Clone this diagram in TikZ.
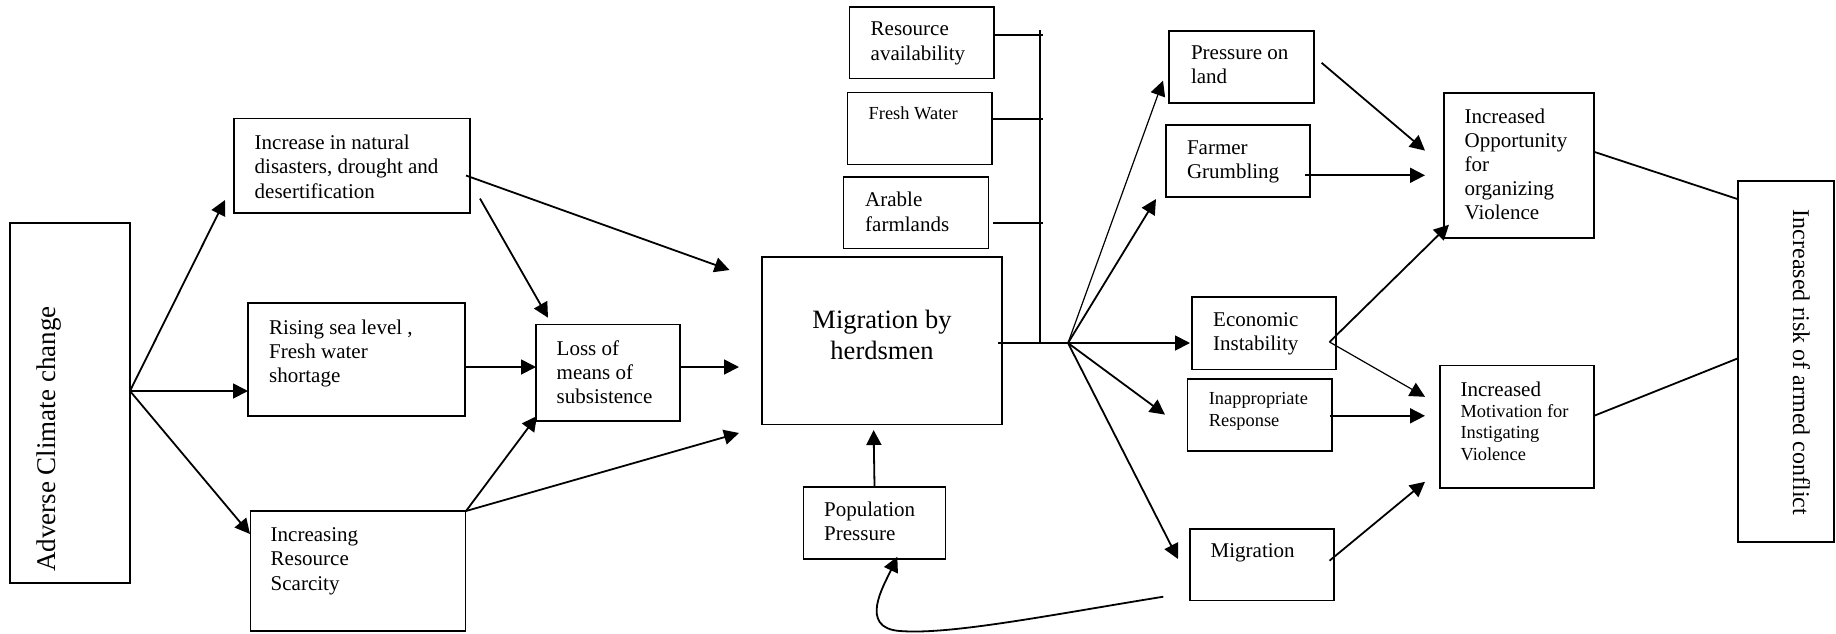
\documentclass[tikz,border=0pt]{standalone}
\usepackage{fontspec}
\setmainfont{Liberation Serif}
\usetikzlibrary{arrows.meta}
\begin{document}
\begin{tikzpicture}[x=1pt,y=-1pt,
  box/.style={draw, line width=1.8pt, rectangle, inner sep=0pt},
  txt/.style={inner sep=0pt, anchor=north west, align=left, font=\fontsize{21}{24.3}\selectfont},
  stxt/.style={txt, font=\fontsize{18.4}{21.9}\selectfont},
  arr/.style={line width=1.8pt, -{Triangle[length=15pt,width=15pt]}},
  thinarr/.style={arr, line width=1.2pt},
  ln/.style={line width=1.8pt},
  thinln/.style={line width=1.2pt}]
\useasboundingbox (0,0) rectangle (1836,633);

% ---------- boxes ----------
\node[box, minimum width=120pt, minimum height=360pt] (adv) at (70,403) {};
\node[box, minimum width=236pt, minimum height=94.5pt] (incr) at (352,165.75) {};
\node[box, minimum width=217pt, minimum height=113pt] (rise) at (356.5,359.5) {};
\node[box, minimum width=215pt, minimum height=120pt] (scar) at (358,571) {};
\node[box, minimum width=144pt, minimum height=96.5pt] (loss) at (608,372.75) {};
\node[box, minimum width=240pt, minimum height=167.5pt] (herd) at (882,340.75) {};
\node[box, minimum width=144.5pt, minimum height=71.5pt] (resav) at (921.75,42.75) {};
\node[box, minimum width=144.5pt, minimum height=72pt] (fresh) at (919.75,128.5) {};
\node[box, minimum width=145pt, minimum height=71.5pt] (arable) at (916,212.75) {};
\node[box, minimum width=142pt, minimum height=72pt] (pop) at (874.5,523) {};
\node[box, minimum width=145pt, minimum height=72pt] (pland) at (1241.5,67) {};
\node[box, minimum width=144pt, minimum height=72pt] (farmer) at (1238,161) {};
\node[box, minimum width=144pt, minimum height=72.5pt] (econ) at (1264,333.25) {};
\node[box, minimum width=144.5pt, minimum height=72pt] (inapp) at (1259.75,415) {};
\node[box, minimum width=144pt, minimum height=71.5pt] (migr) at (1262,564.75) {};
\node[box, minimum width=150pt, minimum height=145pt] (opp) at (1519,165.15) {};
\node[box, minimum width=154pt, minimum height=122.5pt] (motiv) at (1517,426.8) {};
\node[box, minimum width=96pt, minimum height=360.7pt] (risk) at (1786,361.35) {};

% ---------- texts ----------
\node[inner sep=0pt, rotate=90, anchor=base west, font=\fontsize{27}{30}\selectfont] (advT) at (55.3,572) {Adverse Climate change};
\node[inner sep=0pt, rotate=-90, anchor=base west, font=\fontsize{24}{28}\selectfont] (riskT) at (1793,209.7) {Increased risk of armed conflict};
\node[txt] (incrT) at (254.5,134.7) {Increase in natural\\disasters, drought and\\desertification};
\node[txt] (riseT) at (269,319.3) {Rising sea level ,\\Fresh water\\shortage};
\node[txt] (scarT) at (270.5,527.3) {Increasing\\Resource\\Scarcity};
\node[txt] (lossT) at (556.5,340.3) {Loss of\\means of\\subsistence};
\node[inner sep=0pt, anchor=north, align=center, font=\fontsize{26.5}{31}\selectfont] (herdT) at (882,309.5) {Migration by\\herdsmen};
\node[txt] (resavT) at (870.5,22) {Resource\\availability};
\node[stxt] (freshT) at (868.5,107) {Fresh Water};
\node[txt] (arableT) at (865,192) {Arable\\farmlands};
\node[txt] (popT) at (824,501.6) {Population\\Pressure};
\node[txt] (plandT) at (1190.8,45.4) {Pressure on\\land};
\node[txt] (farmerT) at (1186.8,140.3) {Farmer\\Grumbling};
\node[txt] (econT) at (1213,311.9) {Economic\\Instability};
\node[stxt] (inappT) at (1208.6,392.6) {Inappropriate\\Response};
\node[txt] (migrT) at (1210.5,543) {Migration};
\node[txt, font=\fontsize{21}{24.1}\selectfont] (oppT) at (1464.4,108.3) {Increased\\Opportunity\\for\\organizing\\Violence};
\node[txt] (motivT) at (1460.4,381.6) {Increased};
\node[stxt] (motivTb) at (1460.4,403.9) {Motivation for\\Instigating\\Violence};

% ---------- coordinates ----------
\coordinate (advO) at (130,391);
\coordinate (tIncr) at (225,200);
\coordinate (tRise) at (248,391);
\coordinate (tScar) at (250,534);
\coordinate (incrO1) at (466,175.5);
\coordinate (incrO2) at (480,198.6);
\coordinate (tHerd1) at (729.5,270);
\coordinate (tLoss1) at (548,317.7);
\coordinate (riseO) at (465,367);
\coordinate (tLoss2) at (536,367);
\coordinate (lossO) at (680,367);
\coordinate (tHerd2) at (739,367);
\coordinate (scarO) at (466,511);
\coordinate (tLoss3) at (537,416);
\coordinate (tHerd3) at (739,433);
\coordinate (resavO) at (993.5,35);
\coordinate (freshO) at (992,118.7);
\coordinate (arableO) at (993,222.9);
\coordinate (resavE) at (1042.5,35);
\coordinate (freshE) at (1042.5,118.7);
\coordinate (arableE) at (1042.5,222.9);
\coordinate (barTop) at (1039.7,30);
\coordinate (barBot) at (1039.7,343);
\coordinate (herdO) at (998,343);
\coordinate (hub) at (1068,343);
\coordinate (tPland) at (1163,80.7);
\coordinate (tFarmer) at (1156,199);
\coordinate (tEcon) at (1190,343);
\coordinate (tInapp) at (1165,414.6);
\coordinate (tMigr) at (1178,559);
\coordinate (plandO) at (1321.6,62.8);
\coordinate (farmerO) at (1305.4,175.3);
\coordinate (econO) at (1329.5,342);
\coordinate (inappO) at (1329.5,415.8);
\coordinate (migrO) at (1329.5,560.7);
\coordinate (tOpp1) at (1425,150.6);
\coordinate (tOpp2) at (1425,175.3);
\coordinate (tOpp3) at (1449,224.7);
\coordinate (tMot1) at (1425,396.8);
\coordinate (tMot2) at (1425,415.8);
\coordinate (tMot3) at (1425,481.8);
\coordinate (oppO) at (1594,151.8);
\coordinate (riskI1) at (1738,199.2);
\coordinate (motivO) at (1594,415.8);
\coordinate (riskI2) at (1738,358.3);
\coordinate (tPopHerd) at (873.6,430);
\coordinate (migrC) at (1163.3,596.7);
\coordinate (tPop) at (897.3,556.7);

% ---------- connectors ----------
\draw[arr] (advO) -- (tIncr);
\draw[arr] (advO) -- (tRise);
\draw[arr] (advO) -- (tScar);
\draw[arr] (incrO1) -- (tHerd1);
\draw[arr] (incrO2) -- (tLoss1);
\draw[arr] (riseO) -- (tLoss2);
\draw[arr] (lossO) -- (tHerd2);
\draw[arr] (scarO) -- (tLoss3);
\draw[arr] (scarO) -- (tHerd3);

\draw[ln] (resavO) -- (resavE);
\draw[ln] (freshO) -- (freshE);
\draw[ln] (arableO) -- (arableE);
\draw[ln] (barTop) -- (barBot);
\draw[ln] (herdO) -- (hub);

\draw[thinarr] (hub) -- (tPland);
\draw[arr] (hub) -- (tFarmer);
\draw[arr] (hub) -- (tEcon);
\draw[arr] (hub) -- (tInapp);
\draw[arr] (hub) -- (tMigr);

\draw[arr] (plandO) -- (tOpp1);
\draw[arr] (farmerO) -- (tOpp2);
\draw[arr] (econO) -- (tOpp3);
\draw[thinarr] (econO) -- (tMot1);
\draw[arr] (inappO) -- (tMot2);
\draw[arr] (migrO) -- (tMot3);

\draw[ln] (oppO) -- (riskI1);
\draw[ln] (motivO) -- (riskI2);

\draw[arr] (pop.north) -- (tPopHerd);
\draw[arr] (migrC) .. controls (1050,615) and (950,635) .. (900,631)
                   .. controls (858,628) and (884,585) .. (tPop);
\end{tikzpicture}
\end{document}
